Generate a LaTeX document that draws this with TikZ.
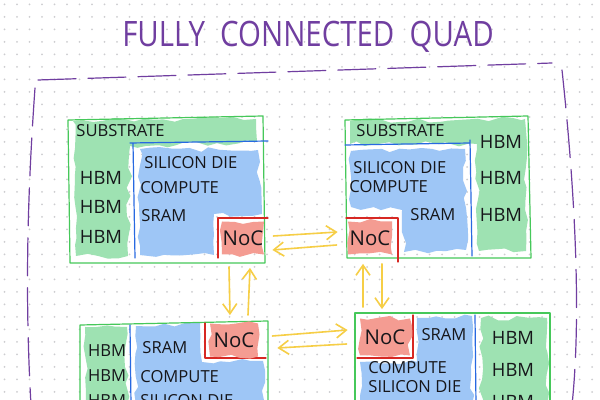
\documentclass[tikz,border=0pt]{standalone}
\usepackage{fontspec}
\setmainfont{Open Sans}
\usepackage{graphicx}
\usetikzlibrary{arrows.meta,calc,decorations.pathmorphing}
\definecolor{grape}{RGB}{112,62,160}
\definecolor{leaf}{RGB}{70,200,90}
\definecolor{leafmark}{RGB}{158,226,178}
\definecolor{sky}{RGB}{40,105,225}
\definecolor{skymark}{RGB}{158,198,246}
\definecolor{brick}{RGB}{215,40,35}
\definecolor{salmon}{RGB}{244,156,146}
\definecolor{amber}{RGB}{246,206,70}
\definecolor{ink}{RGB}{22,22,26}
\definecolor{dotgray}{RGB}{205,205,208}
\tikzset{
  >={Straight Barb[length=5pt,width=7pt]},
  marker/.style={fill=#1,decorate,decoration={random steps,segment length=5pt,amplitude=1.3pt}},
  pen/.style={draw=#1,line width=0.6pt,line cap=round,line join=round},
  frame/.style={draw=grape,line width=0.6pt,dash pattern=on 19pt off 6pt,line cap=round},
  word/.style={font=\fontsize{8.3}{9}\selectfont,text=ink,inner sep=0pt},
  tall/.style={font=\fontsize{9.2}{10}\selectfont,text=ink,inner sep=0pt},
  noc/.style={marker=salmon,minimum height=16.5pt,inner sep=0pt,
    font=\fontsize{10.2}{11}\selectfont,text=ink},
  link/.style={->,draw=amber,line width=0.8pt,line cap=round},
}
\pgfmathsetseed{7}
\begin{document}
\begin{tikzpicture}[x=0.5pt,y=-0.5pt]
  \clip (0,0) rectangle (600,400);
  \fill[white] (0,0) rectangle (600,400);
  \foreach \i in {0,...,47}
    \foreach \j in {0,...,31}
      \fill[dotgray] ({4.5+12.5*\i},{4.5+12.5*\j}) circle (0.5pt);

  \node[text=grape,inner sep=0pt] (title) at (308,37)
    {\fontsize{17.5}{18}\selectfont\scalebox{0.84}[1]{FULLY\ \ CONNECTED\ \ QUAD}};

  % quad boundary
  \draw[frame] (38,80) -- (552,63);
  \draw[frame] (35,88) .. controls (27,200) and (25,300) .. (31,405);
  \draw[frame] (562,70) .. controls (576,200) and (581,320) .. (572,405);

  % substrate and die marks
  \path[marker=leafmark] (73,121) -- (256,119) -- (257,142) -- (130,146) -- (128,256) -- (76,256) -- cycle;
  \path[marker=leafmark] (350,121) -- (525,119) -- (526,251) -- (479,251) -- (477,144) -- (350,144) -- cycle;
  \path[marker=leafmark] (85,327) rectangle (127,405);
  \path[marker=leafmark] (481,318) rectangle (547,405);
  \path[marker=skymark] (140,149) -- (258,150) -- (262,214) -- (214,214) -- (214,255) -- (140,255) -- cycle;
  \path[marker=skymark] (351,151) -- (465,149) -- (466,250) -- (404,252) -- (402,210) -- (351,207) -- cycle;
  \path[marker=skymark] (136,326) -- (200,323) -- (202,362) -- (263,361) -- (265,405) -- (136,405) -- cycle;
  \path[marker=skymark] (417,318) -- (472,316) -- (472,405) -- (360,405) -- (360,362) -- (417,362) -- cycle;

  % chip outlines
  \draw[pen=leaf] (68,120) -- (263,116) -- (265,263) -- (70,263) -- cycle;
  \draw[pen=leaf] (345,120) -- (528,116) -- (531,258) -- (347,258) -- cycle;
  \draw[pen=leaf] (80,405) -- (80,325) -- (268,321) -- (268,405);
  \draw[pen=leaf] (355,405) -- (355,313) -- (550,313) -- (550,405);
  \draw[pen=sky] (130,143) -- (268,141) (133,143) -- (135,258);
  \draw[pen=sky] (345,145) -- (470,143) (470,140) -- (472,256);
  \draw[pen=sky] (130,325) -- (131,405);
  \draw[pen=sky] (475,315) -- (476,405);
  \draw[pen=brick] (218,258) -- (218,218) -- (268,218);
  \draw[pen=brick] (346,218) -- (398,218) -- (398,262);
  \draw[pen=brick] (205,323) -- (205,358) -- (266,358);
  \draw[pen=brick] (413,315) -- (413,358) -- (357,358);

  % network on chip
  \node[noc,minimum width=21pt] (nocA) at (243,238) {NoC};
  \node[noc,minimum width=22pt] (nocB) at (370,238) {NoC};
  \node[noc,minimum width=24pt] (nocC) at (234,340) {NoC};
  \node[noc,minimum width=25pt,minimum height=18.5pt] (nocD) at (385,337) {NoC};

  % labels
  \node[word,anchor=west] (subA) at (76,131) {SUBSTRATE};
  \node[word,anchor=west] (dieA) at (144,163) {SILICON DIE};
  \node[word,anchor=west] (cmpA) at (140,188) {COMPUTE};
  \node[word,anchor=west] (srmA) at (141,216) {SRAM};
  \node[word,anchor=west] (subB) at (356,131) {SUBSTRATE};
  \node[word,anchor=west] (dieB) at (353,168) {SILICON DIE};
  \node[word,anchor=west] (cmpB) at (349,187) {COMPUTE};
  \node[word,anchor=west] (srmB) at (410,215) {SRAM};
  \node[word,anchor=west] (srmC) at (142,348) {SRAM};
  \node[word,anchor=west] (cmpC) at (140,377) {COMPUTE};
  \node[word,anchor=west] (dieC) at (140,401) {SILICON DIE};
  \node[word] (srmD) at (444,335) {SRAM};
  \node[word,anchor=west] (cmpD) at (368,368) {COMPUTE};
  \node[word,anchor=west] (dieD) at (368,387) {SILICON DIE};
  \foreach \n/\x/\y in {A1/101/178,A2/101/207,A3/101/237,B1/501/142,B2/501/178,B3/501/215,
                        D1/513/338,D2/513/370,D3/513/402}
    \node[tall] (hbm\n) at (\x,\y) {HBM};
  \foreach \n/\y in {C1/351,C2/376,C3/401}
    \node[word] (hbm\n) at (107,\y) {HBM};

  % links
  \draw[link] ($(nocA.east)+(9,-2)$) -- ($(nocB.west)+(-10,-6)$);
  \draw[link] ($(nocB.west)+(-11,7)$) -- ($(nocA.east)+(8,12)$);
  \draw[link] ($(nocA.south)+(-14,12)$) -- ($(nocC.north)+(-4,-8)$);
  \draw[link] ($(nocC.north)+(14,-8)$) -- ($(nocA.south)+(7,13)$);
  \draw[link] ($(nocD.north)+(-22,-11)$) -- ($(nocB.south)+(-7,9)$);
  \draw[link] ($(nocB.south)+(12,9)$) -- ($(nocD.north)+(-3,-9)$);
  \draw[link] ($(nocC.east)+(14,-4)$) -- ($(nocD.west)+(-12,-7)$);
  \draw[link] ($(nocD.west)+(-13,7)$) -- ($(nocC.east)+(19,8)$);
\end{tikzpicture}
\end{document}
